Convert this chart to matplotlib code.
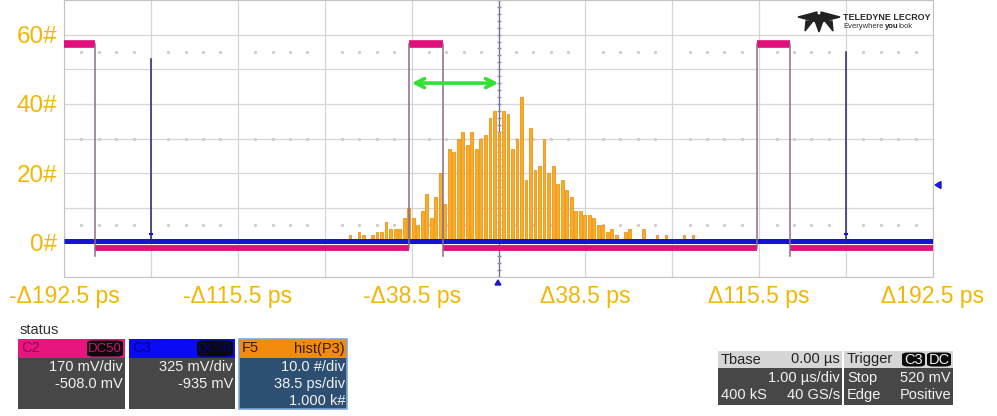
import numpy as np
import matplotlib.pyplot as plt
from matplotlib.patches import Rectangle, Polygon, FancyBboxPatch

plt.rcParams['font.family'] = ['Liberation Sans', 'DejaVu Sans']

W, H = 997, 416

# F5 = hist(P3), 2 ps bins, first bin index -12
bin_first = -12
bin_width = 2.0
bin_offset = -51.8
counts = [0, 1, 0, 1, 1, 2, 1, 3, 2, 1, 2, 3,
          3, 6, 4, 4, 4, 7, 10, 7, 5, 9,
          14, 7, 13, 20, 11, 27, 26, 30, 32, 28,
          32, 27, 30, 31, 36, 38, 32, 38, 37, 27,
          30, 42, 18, 33, 21, 22, 30, 20, 22, 17,
          18, 15, 13, 9, 9, 8, 8, 7, 5, 5,
          3, 4, 2, 1, 3, 4, 1, 1, 4, 1,
          1, 2, 1, 2, 1, 0, 1, 2, 0, 2]

# C2 trace: starts high, toggles at each edge
c2_edges = [-178.8, -39.5, -24.6, 114.5, 129.1]
c2_high = 57.3
c2_low = -1.6
c2_undershoot = -3.8

# C3 trace: flat with narrow spikes
c3_level = 0.4
c3_spikes = [-154.0, 154.0]
c3_spike_tops = [53.0, 55.0]

xticks = [-192.5, -115.5, -38.5, 38.5, 115.5, 192.5]
xtick_labels = ['-\u0394192.5 ps', '-\u0394115.5 ps', '-\u039438.5 ps',
                '\u039438.5 ps', '\u0394115.5 ps', '\u0394192.5 ps']
yticks = [0, 20, 40, 60]
ytick_labels = ['0#', '20#', '40#', '60#']

# delta cursor span
cursor_span = [-38.5, 0.0]
cursor_y = 46.0

label_color = '#f2b705'
grid_color = '#d6d6d6'


def fx(x):
    return x / W


def fy(y):
    return 1 - y / H


fig = plt.figure(figsize=(W / 100, H / 100), dpi=100)
ax = fig.add_axes([fx(64), fy(277), 869 / W, 277 / H])
ax.set_xlim(-192.5, 192.5)
ax.set_ylim(-10, 70)

# grid 10 x 8 divisions
for gx in np.linspace(-192.5, 192.5, 11):
    ax.axvline(gx, color=grid_color, lw=0.9, zorder=0)
for gy in np.arange(-10, 71, 10):
    ax.axhline(gy, color=grid_color, lw=0.9, zorder=0)
for sp in ax.spines.values():
    sp.set_color('#c4c4c4')

# minor dots along three rows
dot_x = np.linspace(0, 1, 51)
dot_x = dot_x[np.arange(51) % 5 != 0]
for fr in [0.5 - 0.3123, 0.5, 0.5 + 0.3123]:
    ax.plot(dot_x, np.full(dot_x.size, fr), ls='none', marker='s', ms=1.1,
            color='#cccccc', transform=ax.transAxes, zorder=1)

# centre axis
ax.axvline(0, color='#6c6c9c', lw=0.9, zorder=1)
ax.plot(np.zeros(41), np.linspace(-10, 70, 41), ls='none', marker='_', ms=3,
        color='#8c8cb0', zorder=1)

# histogram
centers = bin_offset + bin_width * np.arange(bin_first, bin_first + len(counts))
ax.bar(centers, counts, width=bin_width * 0.62, color='#f8ac2c',
       edgecolor='#ee9410', lw=0.6, zorder=2)

# C3 trace
ax.plot([-192.5, 192.5], [c3_level, c3_level], color='#1414d2', lw=3.6,
        solid_capstyle='butt', zorder=3)
for t, top in zip(c3_spikes, c3_spike_tops):
    ax.plot([t, t], [c3_level, top], color='#24246a', lw=1.1, zorder=3)
    ax.plot([t - 0.4, t + 0.4], [c3_level + 2, c3_level + 2], color='#1414d2',
            lw=1.5, zorder=3)

# C2 trace: plateaus + thin edges
bounds = [-192.5] + c2_edges + [192.5]
for k in range(len(bounds) - 1):
    lvl = c2_high if k % 2 == 0 else c2_low
    ax.plot([bounds[k], bounds[k + 1]], [lvl, lvl], color='#e0107a',
            lw=5.5 if lvl == c2_high else 4.2, solid_capstyle='butt', zorder=4)
for k, t in enumerate(c2_edges):
    falling = k % 2 == 0
    lo = c2_undershoot if falling else c2_low
    ax.plot([t, t], [lo, c2_high], color='#8e6a86', lw=1.1, zorder=4)

# delta arrow
ax.annotate('', xy=(cursor_span[0], cursor_y), xytext=(cursor_span[1], cursor_y),
            arrowprops=dict(arrowstyle='<->', color='#35e035', lw=2.6,
                            mutation_scale=16, shrinkA=0, shrinkB=0), zorder=5)

ax.set_xticks(xticks)
ax.set_xticklabels(xtick_labels)
ax.set_yticks(yticks)
ax.set_yticklabels(ytick_labels)
ax.tick_params(length=0, labelcolor=label_color)
ax.tick_params(axis='x', pad=6, labelsize=16.5)
ax.tick_params(axis='y', pad=5, labelsize=17.5)

# logo
fig.text(fx(843), fy(17), 'TELEDYNE LECROY', fontsize=6.4, fontweight='bold',
         color='#2a2a2a', va='center')
fig.text(fx(843), fy(27), 'Everywhere', fontsize=5.5, color='#333333', va='center')
fig.text(fx(884.5), fy(27), 'you', fontsize=5.5, fontweight='bold', color='#222222', va='center')
fig.text(fx(898), fy(27), 'look', fontsize=5.5, color='#333333', va='center')
for poly in [[(798, 17), (817, 12), (817, 22)],
             [(840, 17), (821, 12), (821, 22)],
             [(813, 15), (825, 15), (819, 32)],
             [(806, 21), (813, 21), (805, 31)],
             [(825, 21), (832, 21), (833, 31)]]:
    fig.add_artist(Polygon([(fx(x), fy(y)) for x, y in poly], closed=True,
                           transform=fig.transFigure, color='#222222'))

# level / trigger markers
for poly in [[(935, 185), (941, 181.5), (941, 188.5)],
             [(498, 280), (495, 285), (501, 285)]]:
    fig.add_artist(Polygon([(fx(x), fy(y)) for x, y in poly], closed=True,
                           transform=fig.transFigure, color='#1a1ad0'))


def box(x0, y0, x1, y1, color, edge='none', lw=0):
    fig.add_artist(Rectangle((fx(x0), fy(y1)), (x1 - x0) / W, (y1 - y0) / H,
                             transform=fig.transFigure, facecolor=color,
                             edgecolor=edge, lw=lw))


def tag(x0, y0, x1, y1, color):
    fig.add_artist(FancyBboxPatch((fx(x0), fy(y1)), (x1 - x0) / W, (y1 - y0) / H,
                                  boxstyle='round,pad=0,rounding_size=0.006',
                                  transform=fig.transFigure, facecolor=color,
                                  edgecolor='none'))


def txt(x, y, s, color='#f2f2f2', ha='left', size=10.5):
    fig.text(fx(x), fy(y), s, color=color, ha=ha, va='center', fontsize=size)


txt(20, 330, 'status', color='#333333', size=10.5)

# channel descriptors
chans = [
    (18, 125, '#e8157f', 'C2', '#9c0052', '#d01070', '#474747', None,
     ['170 mV/div', '-508.0 mV']),
    (129, 235, '#0a0af5', 'C3', '#000090', '#000090', '#474747', None,
     ['325 mV/div', '-935 mV']),
    (239, 347, '#f28a0c', 'F5', '#3a1c00', None, '#2c4f72', '#7fa8d4',
     ['10.0 #/div', '38.5 ps/div', '1.000 k#']),
]
for x0, x1, head, name, name_c, cpl_c, body, edge, lines in chans:
    box(x0, 358, x1, 409, body)
    box(x0, 339, x1, 358, head)
    if edge:
        box(x0, 339, x1, 409, 'none', edge=edge, lw=1.2)
    txt(x0 + 3, 348.5, name, color=name_c)
    if cpl_c:
        tag(x1 - 38, 340.5, x1 - 2, 356.5, '#0a0a0a')
        txt(x1 - 20, 348.5, 'DC50', color=cpl_c, ha='center', size=9.5)
    else:
        txt(x1 - 2, 348.5, 'hist(P3)', color=name_c, ha='right')
    for i, s in enumerate(lines):
        txt(x1 - 2, 367 + 17 * i, s, ha='right')

# timebase
box(718, 368, 842, 405, '#474747')
box(718, 351, 842, 368, '#d6d6d6')
txt(721, 359.5, 'Tbase', color='#222222')
txt(840, 359.5, '0.00 \u00b5s', color='#222222', ha='right')
txt(840, 378, '1.00 \u00b5s/div', ha='right')
txt(721, 395, '400 kS')
txt(840, 395, '40 GS/s', ha='right')

# trigger
box(844, 368, 953, 405, '#474747')
box(844, 351, 953, 368, '#d6d6d6')
txt(847, 359.5, 'Trigger', color='#222222')
tag(902, 352.5, 925, 366.5, '#0a0a0a')
tag(927, 352.5, 951, 366.5, '#0a0a0a')
txt(913.5, 359.5, 'C3', ha='center')
txt(939, 359.5, 'DC', ha='center')
txt(847, 378, 'Stop')
txt(951, 378, '520 mV', ha='right')
txt(847, 395, 'Edge')
txt(951, 395, 'Positive', ha='right')

fig.savefig('out.png', dpi=100, facecolor='white')
